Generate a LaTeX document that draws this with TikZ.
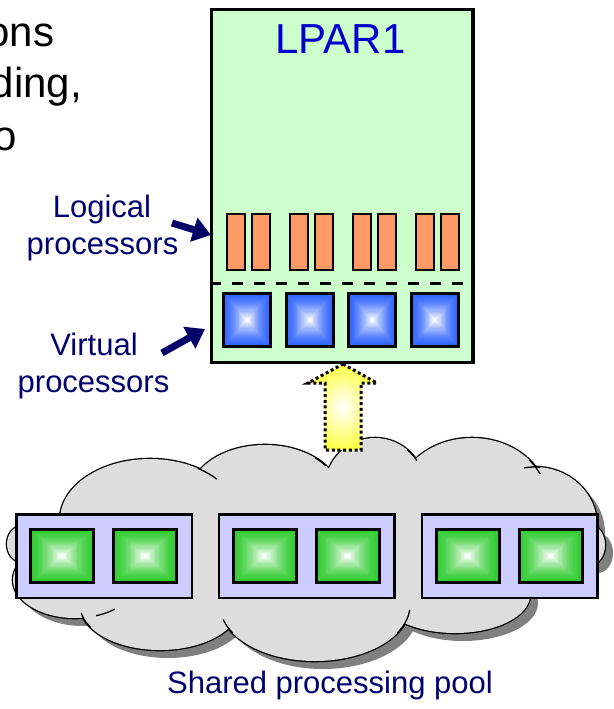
\documentclass[tikz,border=0pt]{standalone}
\usepackage{fontspec}
\setmainfont{Liberation Sans}
\usetikzlibrary{calc,arrows.meta}
\definecolor{lparfill}{HTML}{CCFFCC}
\definecolor{orangebar}{HTML}{FF9966}
\definecolor{vpblue}{HTML}{3366FF}
\definecolor{ppgreen}{HTML}{33CC33}
\definecolor{poolfill}{HTML}{CCCCFF}
\definecolor{cloudfill}{HTML}{DDDDDD}
\definecolor{cloudshadow}{HTML}{808080}
\definecolor{navytext}{HTML}{000070}
\definecolor{lpartext}{HTML}{0000CC}
\definecolor{arrowyellow}{HTML}{FFFF44}
\definecolor{navyarrow}{HTML}{000066}
\begin{document}
\begin{tikzpicture}[x=1pt,y=-1pt,
  pyr/.style={draw=black, line width=3pt, inner sep=0pt, path picture={
     \foreach \i in {0,...,24}{
       \pgfmathsetmacro\pyrt{\i/50}
       \pgfmathsetmacro\pyru{1-\i/50}
       \pgfmathtruncatemacro\pyrc{100-100*(\i/24)^1.6}
       \fill[#1!\pyrc!white] ($(path picture bounding box.south west)!\pyrt!(path picture bounding box.north east)$) rectangle ($(path picture bounding box.south west)!\pyru!(path picture bounding box.north east)$);
     }}},
  vproc/.style={pyr=vpblue, minimum width=47pt, minimum height=53pt},
  pproc/.style={pyr=ppgreen, minimum width=63pt, minimum height=53pt},
  lbar/.style={draw=black, fill=orangebar, line width=2pt, inner sep=0pt, minimum width=18pt, minimum height=56pt},
  poolbox/.style={draw=black, fill=poolfill, line width=2.5pt, inner sep=0pt, minimum width=175.5pt, minimum height=83.5pt},
  lparbox/.style={draw=black, fill=lparfill, line width=3.5pt, inner sep=0pt},
  navylabel/.style={text=navytext, font=\fontsize{31}{37}\selectfont, inner sep=0pt, anchor=base},
  blacklabel/.style={text=black, font=\fontsize{42}{50}\selectfont, inner sep=0pt, anchor=base east},
  pointer/.style={draw=navyarrow, line width=7pt, -{Triangle[length=18pt,width=24pt]}},
  lobeline/.style={draw=black, line width=1.3pt}
]
\useasboundingbox (0,0) rectangle (613,709);
\fill[white] (0,0) rectangle (613,709);

% leftover text from the slide
\node[blacklabel] (t1) at (54.5,47) {ons};
\node[blacklabel] (t2) at (82,97) {ding,};
\node[blacklabel] (t3) at (17,150) {o};

% cloud (shared pool)
\def\lobes{150/520/90/61, 265/495/75/50, 375/488/50/50, 472/500/75/62, 535/525/62/58, 590/545/15/20, 455/595/75/38, 315/605/95/56, 160/605/80/45, 75/580/62/38, 22/544/15/18, 310/550/250/70}
\foreach \cx/\cy/\rx/\ry in \lobes {
  \fill[cloudshadow] ({\cx+8},{\cy+8}) ellipse [x radius=\rx, y radius=\ry];
}
\foreach \cx/\cy/\rx/\ry in \lobes {
  \draw[line width=2.6pt] (\cx,\cy) ellipse [x radius=\rx, y radius=\ry];
}
\foreach \cx/\cy/\rx/\ry in \lobes {
  \fill[cloudfill] (\cx,\cy) ellipse [x radius=\rx, y radius=\ry];
}
\foreach \cx/\cy/\rx/\ry/\a/\b in {150/520/90/61/-58/-42, 265/495/75/50/-48/-36, 375/488/50/50/-50/-33, 472/500/75/62/-40/-25, 535/525/62/58/-100/-85, 315/605/95/56/5/30, 315/605/95/56/150/165, 160/605/80/45/150/170, 75/580/62/38/50/70} {
  \draw[lobeline] plot[domain=\a:\b, samples=20, smooth] ({\cx+\rx*cos(\x)},{\cy+\ry*sin(\x)});
}

% pool boxes and physical processors
\foreach \k/\cx in {1/104, 2/306.5, 3/509.5} {
  \node[poolbox] (pool\k) at (\cx,556) {};
  \node[pproc] (ppa\k) at ({\cx-42},556) {};
  \node[pproc] (ppb\k) at ({\cx+41},556) {};
}
\node[navylabel] (pooltext) at (330,693) {Shared processing pool};

% LPAR
\node[lparbox, minimum width=261.5pt, minimum height=353pt] (lpar) at (342.25,186) {};
\node[text=lpartext, font=\fontsize{42}{50}\selectfont, inner sep=0pt, anchor=base] (lpartitle) at (340.5,53) {LPAR1};
\foreach \k in {0,...,3} {
  \node[lbar] (lpa\k) at ({236+63*\k},242) {};
  \node[lbar] (lpb\k) at ({261+63*\k},242) {};
}
\coordinate (dl) at (0,283);
\draw[line width=3pt, dash pattern=on 11pt off 11pt] (lpar.west |- dl) -- (lpar.east |- dl);
\foreach \k in {0,...,3} {
  \node[vproc] (vp\k) at ({247+62.7*\k},320) {};
}

% labels and pointers
\node[navylabel] (log1) at (102,217) {Logical};
\node[navylabel] (log2) at (102.5,254) {processors};
\node[navylabel] (vir1) at (94,355) {Virtual};
\node[navylabel] (vir2) at (93.5,392) {processors};
\coordinate (lpA) at (172,223);
\coordinate (lpB) at (211,235);
\coordinate (vpA) at (162,353);
\coordinate (vpB) at (205,329);
\draw[pointer] (lpA) -- (lpB);
\draw[pointer] (vpA) -- (vpB);

% dispatch arrow from pool to LPAR
\shadedraw[inner color=white, outer color=arrowyellow, draw=black, line width=3pt, dash pattern=on 3pt off 2.7pt]
  (343,364) -- (377,383) -- (361,383) -- (361,450) -- (325,450) -- (325,383) -- (308,383) -- cycle;
\end{tikzpicture}
\end{document}
